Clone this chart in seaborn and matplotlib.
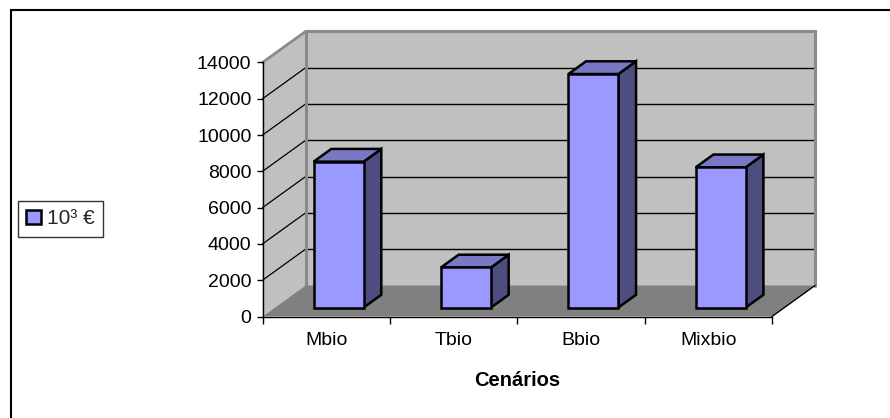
import matplotlib
matplotlib.use("Agg")
import matplotlib.pyplot as plt
from matplotlib.patches import Polygon
from matplotlib.lines import Line2D
from matplotlib.transforms import Affine2D
import seaborn as sns
import pandas as pd

categories = ["Mbio", "Tbio", "Bbio", "Mixbio"]
values = [8040, 2210, 12870, 7730]
y_ticks = [0, 2000, 4000, 6000, 8000, 10000, 12000, 14000]
series_label = "10³ €"
x_title = "Cenários"

sns.set_theme(style="white")
plt.rcParams["font.family"] = ["Liberation Sans", "DejaVu Sans"]

W, H = 890, 418
FS = 14
fig = plt.figure(figsize=(W / 100, H / 100), dpi=100)
fig.patch.set_facecolor("white")

# front plane of the 3-D box (pixel bounds converted to figure fractions)
left_px, right_px, bottom_px, top_px = 262.5, 772.0, 316.5, 62.5
ax = fig.add_axes([left_px / W, 1 - bottom_px / H,
                   (right_px - left_px) / W, (bottom_px - top_px) / H])
ax.set_facecolor("none")

df = pd.DataFrame({"cenario": categories, "valor": values})
sns.barplot(data=df, x="cenario", y="valor", width=0.3925, color="#9999FF",
            saturation=1, edgecolor="black", linewidth=1.8, errorbar=None,
            label=series_label, ax=ax)

ymax = y_ticks[-1]
ax.set_xlim(-0.5, len(categories) - 0.5)
ax.set_ylim(0, ymax)

# oblique depth vector in data units
px_per_cat = (right_px - left_px) / len(categories)
px_per_val = (bottom_px - top_px) / ymax
DX = 43 / px_per_cat
DY = 31 / px_per_val
x_lo, x_hi = -0.5, len(categories) - 0.5


def proj(x, y, f):
    return (x + f * DX, y + f * DY)


wall = "#C0C0C0"
floor = "#808080"
edge_gray = "#8A8A8A"

# back wall and side wall
ax.add_patch(Polygon([proj(x_lo, 0, 1), proj(x_hi, 0, 1), proj(x_hi, ymax, 1),
                      proj(x_lo, ymax, 1)], closed=True, facecolor=wall,
                     edgecolor="none", zorder=0.1, clip_on=False))
ax.add_patch(Polygon([proj(x_lo, 0, 0), proj(x_lo, ymax, 0), proj(x_lo, ymax, 1),
                      proj(x_lo, 0, 1)], closed=True, facecolor=wall,
                     edgecolor="none", zorder=0.1, clip_on=False))

# gridlines on both walls
for v in y_ticks[1:-1]:
    ax.add_line(Line2D(*zip(proj(x_lo, v, 1), proj(x_hi, v, 1)), color="black",
                       lw=1.0, zorder=0.2, clip_on=False))
    ax.add_line(Line2D(*zip(proj(x_lo, v, 0), proj(x_lo, v, 1)), color="black",
                       lw=0.9, zorder=0.2, clip_on=False))

# wall outlines
outline = [proj(x_lo, 0, 1), proj(x_lo, ymax, 1), proj(x_hi, ymax, 1), proj(x_hi, 0, 1)]
ax.add_line(Line2D(*zip(*outline), color=edge_gray, lw=2.2, zorder=0.25,
                   clip_on=False, solid_joinstyle="miter"))
ax.add_line(Line2D(*zip(proj(x_lo, ymax, 0), proj(x_lo, ymax, 1)), color=edge_gray,
                   lw=2.0, zorder=0.25, clip_on=False))

# floor
ax.add_patch(Polygon([proj(x_lo, 0, 0), proj(x_hi, 0, 0), proj(x_hi, 0, 1),
                      proj(x_lo, 0, 1)], closed=True, facecolor=floor,
                     edgecolor="none", zorder=0.3, clip_on=False))
ax.add_line(Line2D(*zip(proj(x_hi, 0, 0), proj(x_hi, 0, 1)), color="black",
                   lw=1.0, zorder=0.35, clip_on=False))

# extrude the seaborn bars into boxes
f1, f2 = 0.29, 0.70
front_shift = Affine2D().translate(f1 * DX * px_per_cat, f1 * DY * px_per_val)
for p in ax.patches[:]:
    if not hasattr(p, "get_width"):
        continue
    if abs(p.get_width() - 0.3925) > 1e-6:
        continue
    x0, w, h = p.get_x(), p.get_width(), p.get_height()
    p.set_transform(ax.transData + front_shift)
    p.set_zorder(3)
    p.set_clip_on(False)
    side = [proj(x0 + w, 0, f1), proj(x0 + w, h, f1), proj(x0 + w, h, f2), proj(x0 + w, 0, f2)]
    top = [proj(x0, h, f1), proj(x0 + w, h, f1), proj(x0 + w, h, f2), proj(x0, h, f2)]
    ax.add_patch(Polygon(side, closed=True, facecolor="#4D4D80", edgecolor="black",
                         lw=1.8, zorder=2.9, clip_on=False, joinstyle="miter"))
    ax.add_patch(Polygon(top, closed=True, facecolor="#7878C4", edgecolor="black",
                         lw=1.8, zorder=2.9, clip_on=False, joinstyle="miter"))

# axes
for s in ["top", "right"]:
    ax.spines[s].set_visible(False)
for s in ["left", "bottom"]:
    ax.spines[s].set_color("black")
    ax.spines[s].set_linewidth(1.0)
    ax.spines[s].set_zorder(4)

ax.set_yticks(y_ticks)
ax.set_yticklabels([str(v) for v in y_ticks])
ax.tick_params(axis="y", which="major", left=True, length=4, width=1.0,
               color="black", pad=4, labelsize=FS, labelcolor="black")
ax.set_xticks(range(len(categories)))
ax.set_xticklabels(categories)
ax.set_xticks([i - 0.5 for i in range(len(categories) + 1)], minor=True)
ax.tick_params(axis="x", which="major", length=0, pad=11, labelsize=FS,
               labelcolor="black")
ax.tick_params(axis="x", which="minor", bottom=True, length=5, width=1.0,
               color="black")
ax.set_ylabel("")
ax.set_xlabel(x_title, fontsize=14.5, fontweight="bold", labelpad=16, color="black")

# legend
handles, labels = ax.get_legend_handles_labels()
ax.legend_ = None
leg = fig.legend(handles[:1], labels[:1], loc="upper left",
                 bbox_to_anchor=(18 / W, 1 - 201 / H), borderaxespad=0,
                 frameon=True, fancybox=False, fontsize=15, handlelength=0.7,
                 handleheight=0.7, handletextpad=0.3, borderpad=0.4)
leg.get_frame().set_edgecolor("black")
leg.get_frame().set_linewidth(1.0)

# chart area frame (top and left edges)
fig.add_artist(Line2D([10.5 / W, 10.5 / W], [-0.01, 1 - 9.5 / H], color="black",
                      lw=1.5, transform=fig.transFigure))
fig.add_artist(Line2D([10.5 / W, 1.01], [1 - 9.5 / H, 1 - 9.5 / H], color="black",
                      lw=1.5, transform=fig.transFigure))

fig.savefig("out.png", dpi=100)
